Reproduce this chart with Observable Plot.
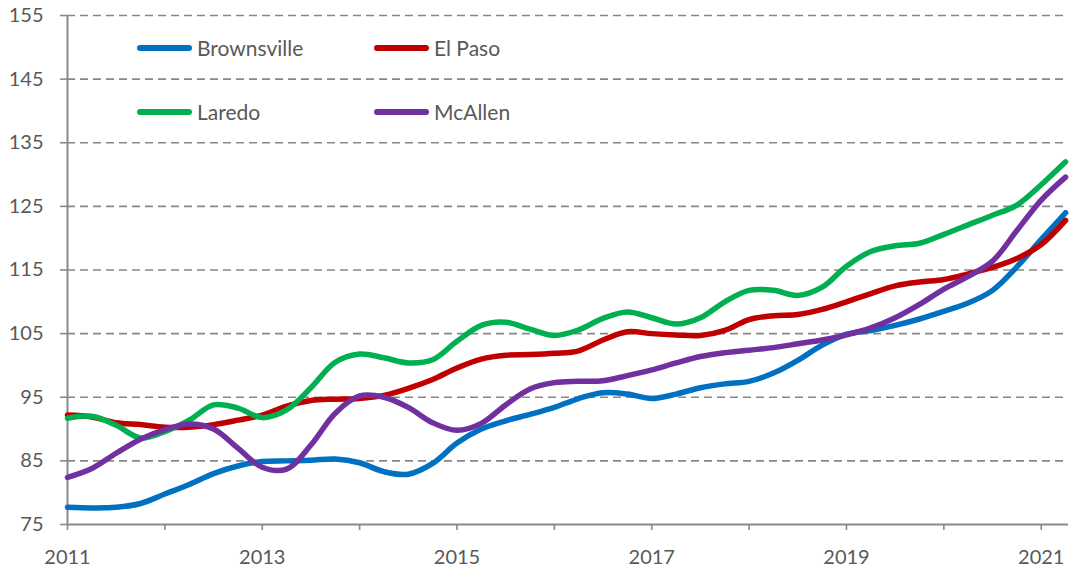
<!DOCTYPE html>
<html><head><meta charset="utf-8">
<script src="https://cdn.jsdelivr.net/npm/d3@7"></script>
<script src="https://cdn.jsdelivr.net/npm/@observablehq/plot@0.6"></script>
<style>
body{margin:0;background:#fff;}
#wrap{position:relative;width:1073px;height:569px;font-family:Lato,"Open Sans",sans-serif;}
.leg{position:absolute;display:flex;align-items:center;font-size:21px;color:#595959;height:24px;line-height:24px;}
.sw{width:55px;height:6px;border-radius:3px;margin-right:5px;}
</style></head><body><div id="wrap"></div>
<script>
// Quarterly time points (decimal years)
const quarters = [2011.00,2011.25,2011.50,2011.75,2012.00,2012.25,2012.50,2012.75,2013.00,2013.25,2013.50,2013.75,
  2014.00,2014.25,2014.50,2014.75,2015.00,2015.25,2015.50,2015.75,2016.00,2016.25,2016.50,2016.75,
  2017.00,2017.25,2017.50,2017.75,2018.00,2018.25,2018.50,2018.75,2019.00,2019.25,2019.50,2019.75,
  2020.00,2020.25,2020.50,2020.75,2021.00,2021.25];

const brownsville = [77.7,77.6,77.7,78.3,79.8,81.3,83.0,84.2,84.9,85.0,85.1,85.3,
  84.7,83.3,82.9,84.6,87.8,90.0,91.3,92.3,93.4,94.8,95.7,95.5,
  94.8,95.5,96.5,97.1,97.5,98.8,100.8,103.2,104.9,105.5,106.3,107.3,
  108.5,109.8,111.8,115.5,119.8,124.0];

const elPaso = [92.2,91.9,91.0,90.7,90.3,90.3,90.7,91.4,92.2,93.6,94.5,94.7,
  94.8,95.3,96.4,97.8,99.6,101.0,101.6,101.7,101.9,102.3,104.0,105.3,
  105.0,104.8,104.7,105.5,107.2,107.8,108.0,108.8,110.0,111.3,112.5,113.1,
  113.5,114.4,115.4,116.8,119.0,122.8];

const laredo = [91.7,92.0,90.6,88.6,89.6,91.4,93.8,93.3,91.8,93.0,96.5,100.5,
  101.8,101.2,100.4,100.9,103.8,106.3,106.8,105.7,104.7,105.6,107.4,108.4,
  107.5,106.5,107.5,110.0,111.8,111.8,111.0,112.3,115.6,117.9,118.8,119.2,
  120.6,122.1,123.6,125.2,128.4,132.0];

const mcAllen = [82.4,83.8,86.2,88.4,89.9,90.8,90.0,87.0,84.0,83.7,87.5,92.5,
  95.2,95.0,93.4,91.0,89.8,90.9,93.8,96.3,97.3,97.5,97.6,98.4,
  99.3,100.4,101.4,102.0,102.4,102.8,103.4,104.0,104.8,105.9,107.5,109.6,
  112.0,114.0,116.4,121.2,126.0,129.6];

const cities = ["Brownsville","El Paso","Laredo","McAllen"];
const colors = ["#0070C0","#C00000","#00B050","#7030A0"];
const seriesValues = [brownsville, elPaso, laredo, mcAllen];

const yTicks = [75,85,95,105,115,125,135,145,155];
const xTicks = [2011,2012,2013,2014,2015,2016,2017,2018,2019,2020,2021];
const xLabels = [2011,2013,2015,2017,2019,2021];

const rows = [];
cities.forEach((c, i) => quarters.forEach((q, j) => rows.push({city: c, t: q, v: seriesValues[i][j]})));

const chart = Plot.plot({
  width: 1073, height: 569,
  marginLeft: 67, marginRight: 5, marginTop: 15, marginBottom: 45,
  style: {fontFamily: "Lato, 'Open Sans', sans-serif", fontSize: "20px", color: "#595959", background: "#fff"},
  x: {domain: [2011, 2021.28]},
  y: {domain: [75, 155]},
  color: {domain: cities, range: colors},
  marks: [
    Plot.ruleY(yTicks.filter(d => d > 75), {stroke: "#878787", strokeWidth: 1.6, strokeDasharray: "8,5"}),
    Plot.ruleX([2011], {stroke: "#898989", strokeWidth: 2}),
    Plot.ruleY([75], {stroke: "#898989", strokeWidth: 2}),
    Plot.axisY({ticks: yTicks, tickSize: 7, tickPadding: 17, stroke: "#898989", strokeWidth: 1.6, fill: "#595959", label: null}),
    Plot.axisX({ticks: xTicks, tickSize: 6, tickPadding: 19, stroke: "#898989", strokeWidth: 1.6, fill: "#595959", label: null,
      tickFormat: d => xLabels.includes(d) ? String(d) : ""}),
    Plot.line(rows, {x: "t", y: "v", z: "city", stroke: "city", strokeWidth: 5.5, curve: "catmull-rom"})
  ]
});
const wrap = document.getElementById("wrap");
wrap.appendChild(chart);

const legendPos = [[137, 36], [374, 36], [137, 100], [374, 100]];
cities.forEach((c, i) => {
  const d = document.createElement("div");
  d.className = "leg";
  d.style.left = legendPos[i][0] + "px";
  d.style.top = legendPos[i][1] + "px";
  d.innerHTML = `<span class="sw" style="background:${colors[i]}"></span><span>${c}</span>`;
  wrap.appendChild(d);
});
</script>
</body></html>
